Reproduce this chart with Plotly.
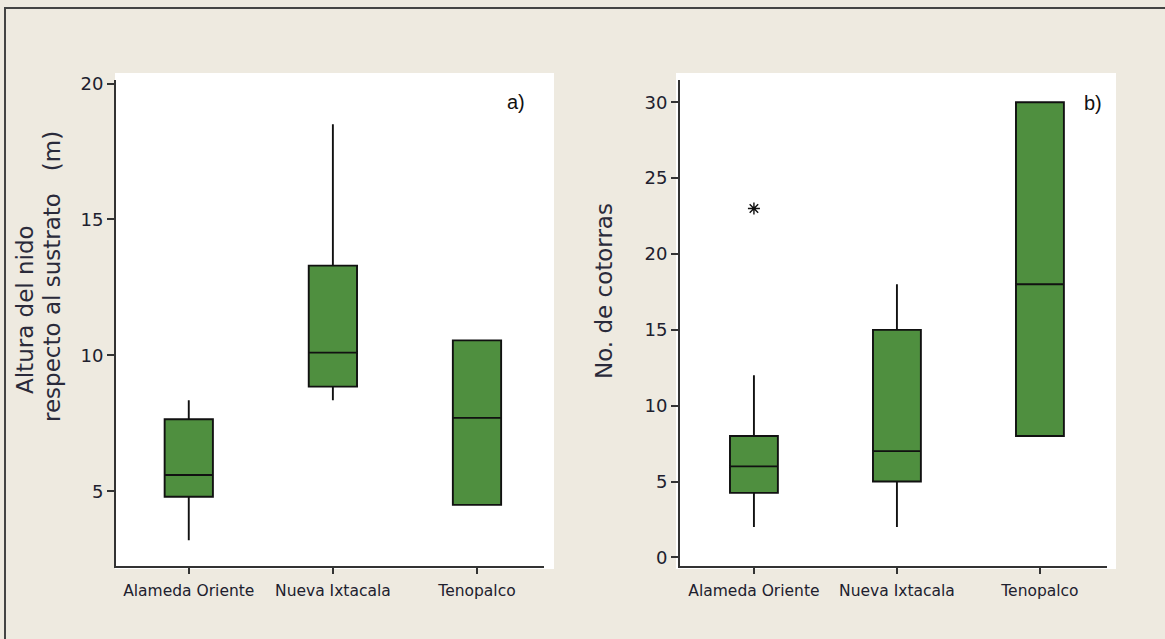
import plotly.graph_objects as go

# ---------------- data ----------------
sites = ["Alameda Oriente", "Nueva Ixtacala", "Tenopalco"]

# a) nest height (m)
height_low = [3.2, 8.35, 4.5]
height_q1 = [4.8, 8.85, 4.5]
height_med = [5.6, 10.1, 7.7]
height_q3 = [7.65, 13.3, 10.55]
height_high = [8.35, 18.5, 10.55]

# b) number of parrots
parrots_low = [2, 2, 8]
parrots_q1 = [4.25, 5, 8]
parrots_med = [6, 7, 18]
parrots_q3 = [8, 15, 30]
parrots_high = [12, 18, 30]
outlier_site = ["Alameda Oriente"]
outlier_value = [23]

W, H = 1165, 639
BG = "#EEEAE0"
GREEN = "#4F8F3F"
TXT = "#20202e"


def px_x(p):
    return p / W


def px_y(p):
    return 1 - p / H


fig = go.Figure()

fig.add_trace(go.Box(
    x=sites, q1=height_q1, median=height_med, q3=height_q3,
    lowerfence=height_low, upperfence=height_high,
    fillcolor=GREEN, line=dict(color="#111111", width=1.9),
    whiskerwidth=0, width=0.335, boxpoints=False,
    xaxis="x", yaxis="y", showlegend=False, hoverinfo="y",
))

fig.add_trace(go.Box(
    x=sites, q1=parrots_q1, median=parrots_med, q3=parrots_q3,
    lowerfence=parrots_low, upperfence=parrots_high,
    fillcolor=GREEN, line=dict(color="#111111", width=1.9),
    whiskerwidth=0, width=0.335, boxpoints=False,
    xaxis="x2", yaxis="y2", showlegend=False, hoverinfo="y",
))

fig.add_trace(go.Scatter(
    x=outlier_site, y=outlier_value, mode="markers",
    marker=dict(symbol="asterisk-open", size=10, color="#111111",
                line=dict(color="#111111", width=1.4)),
    xaxis="x2", yaxis="y2", showlegend=False,
))

tick_font = dict(family="DejaVu Sans", size=18, color=TXT)
cat_font = dict(family="DejaVu Sans", size=15.5, color=TXT)

common_x = dict(type="category", showline=True, linecolor="#333333", linewidth=2,
                ticks="outside", ticklen=6, tickwidth=1.5, tickcolor="#333333",
                ticklabelstandoff=3,
                showgrid=False, zeroline=False, tickfont=cat_font, fixedrange=True,
                automargin=False)
common_y = dict(showline=True, linecolor="#333333", linewidth=2,
                ticks="outside", ticklen=7, tickwidth=1.5, tickcolor="#333333",
                showgrid=False, zeroline=False, tickfont=tick_font, fixedrange=True,
                automargin=False)

shapes = [
    # white plot backgrounds (slightly larger than axes, as in the original)
    dict(type="rect", xref="paper", yref="paper", layer="below",
         x0=px_x(115), x1=px_x(554), y0=px_y(569), y1=px_y(73),
         fillcolor="white", line=dict(width=0)),
    dict(type="rect", xref="paper", yref="paper", layer="below",
         x0=px_x(676), x1=px_x(1116), y0=px_y(569), y1=px_y(73),
         fillcolor="white", line=dict(width=0)),
    # outer frame
    dict(type="rect", xref="paper", yref="paper",
         x0=px_x(5), x1=1.02, y0=-0.02, y1=px_y(8),
         fillcolor="rgba(0,0,0,0)", line=dict(color="#444444", width=2)),
]

annotations = [
    dict(text="Altura del nido", xref="paper", yref="paper",
         x=px_x(25), y=px_y(310), textangle=-90, showarrow=False,
         xanchor="center", yanchor="middle",
         font=dict(family="DejaVu Sans", size=23, color="#2a2a3a")),
    dict(text="respecto al sustrato\u00a0\u00a0\u00a0(m)", xref="paper", yref="paper",
         x=px_x(52), y=px_y(277), textangle=-90, showarrow=False,
         xanchor="center", yanchor="middle",
         font=dict(family="DejaVu Sans", size=23, color="#2a2a3a")),
    dict(text="No. de cotorras", xref="paper", yref="paper",
         x=px_x(604), y=px_y(291), textangle=-90, showarrow=False,
         xanchor="center", yanchor="middle",
         font=dict(family="DejaVu Sans", size=23, color="#2a2a3a")),
    dict(text="a)", xref="paper", yref="paper", x=px_x(516), y=px_y(102),
         showarrow=False, xanchor="center", yanchor="middle",
         font=dict(family="Liberation Sans", size=20, color="#111111")),
    dict(text="b)", xref="paper", yref="paper", x=px_x(1093), y=px_y(103),
         showarrow=False, xanchor="center", yanchor="middle",
         font=dict(family="Liberation Sans", size=20, color="#111111")),
]

fig.update_layout(
    width=W, height=H,
    margin=dict(l=0, r=0, t=0, b=0, pad=0, autoexpand=False),
    paper_bgcolor=BG, plot_bgcolor="white",
    showlegend=False,
    xaxis=dict(common_x, domain=[px_x(116), px_x(544)], range=[-0.505, 2.465],
               anchor="y"),
    yaxis=dict(common_y, domain=[px_y(566), px_y(80)], range=[2.25, 20.13],
               tickvals=[5, 10, 15, 20], anchor="x"),
    xaxis2=dict(common_x, domain=[px_x(680), px_x(1107)], range=[-0.517, 2.469],
                anchor="y2"),
    yaxis2=dict(common_y, domain=[px_y(566), px_y(80)], range=[-0.57, 31.47],
                tickvals=[0, 5, 10, 15, 20, 25, 30], anchor="x2"),
    shapes=shapes,
    annotations=annotations,
)

fig.write_html(
    "out.html",
    config={"displayModeBar": False},
    post_script="document.body.style.margin='0';document.body.style.overflow='hidden';"
                "document.documentElement.style.overflow='hidden';",
)
